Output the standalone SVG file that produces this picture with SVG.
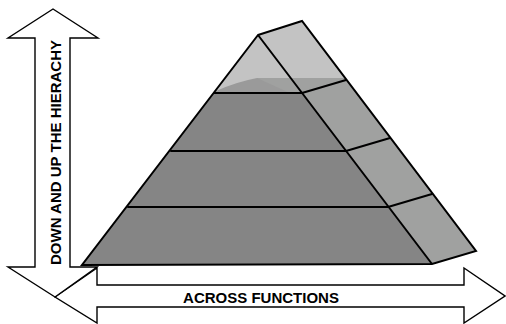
<svg xmlns="http://www.w3.org/2000/svg" width="506" height="324" viewBox="0 0 506 324">
<style>
.arrow{fill:#fff;stroke:#000;stroke-width:1.4;stroke-linejoin:miter}
.lbl{font-family:"Liberation Sans",Arial,sans-serif;font-weight:bold;font-size:15px;fill:#000}
.front{fill:#858585}
.side{fill:#a0a1a0}
.light{fill:#c3c3c3}
.edge{fill:none;stroke:#000;stroke-width:2;stroke-linejoin:miter;stroke-linecap:round}
</style>
<rect width="506" height="324" fill="#fff"/>
<g id="across-arrow">
<polygon class="arrow" points="55,297 97,268 97,285 464,285 464,268 505,296 464,323 464,307 97,307 97,323"/>
<text class="lbl" x="261" y="303" text-anchor="middle">ACROSS FUNCTIONS</text>
</g>
<g id="hierarchy-arrow">
<polygon class="arrow" points="53,9 98,38 70,38 70,267 97,267 55,297 8,267 35,267 35,38 8,38"/>
<text class="lbl" transform="translate(61,152.5) rotate(-90)" text-anchor="middle">DOWN AND UP THE HIERACHY</text>
</g>
<g id="pyramid">
<polygon class="front" points="258,35 82,265 432,264"/>
<polygon class="side" points="258,35 302,21 476,251 432,264"/>
<polygon class="light" points="258,35 214,93 302,93"/>
<polygon class="light" points="258,35 302,21 346,80 302,93"/>
<path fill="#9a9a9a" d="M216,91 Q236,82 257,78 L302,78 L302,93 L214,93 Z"/>
<path fill="#a0a1a0" d="M257,78 L345,78 L346,80 L302,93 L290,93 Z"/>
<path class="edge" d="M214,93 H302 M171,151 H346 M128,207 H388 M302,93 L346,80 M346,151 L390,138 M388,207 L432,194"/>
<path class="edge" d="M258,35 L302,21 L476,251 L432,264 L82,265 Z M258,35 L432,264"/>
</g>
</svg>
